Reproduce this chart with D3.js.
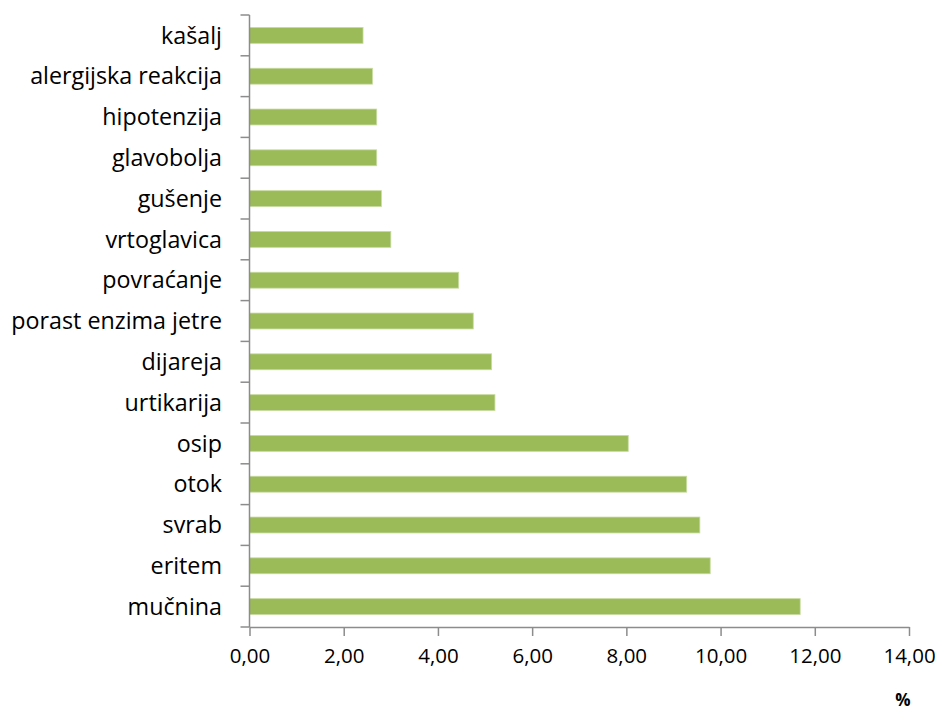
<!DOCTYPE html>
<html>
<head>
<meta charset="utf-8">
<script src="https://cdn.jsdelivr.net/npm/d3@7"></script>
<style>
  html, body { margin: 0; padding: 0; background: #fff; }
  svg { display: block; }
  text { font-family: "Open Sans", Lato, sans-serif; fill: #000; }
</style>
</head>
<body>
<svg id="chart" width="944" height="711"></svg>
<script>
// Adverse reactions, share of reports (%)
const categories = [
  "kašalj", "alergijska reakcija", "hipotenzija", "glavobolja", "gušenje",
  "vrtoglavica", "povraćanje", "porast enzima jetre", "dijareja", "urtikarija",
  "osip", "otok", "svrab", "eritem", "mučnina"
];
const values = [
  2.41, 2.61, 2.70, 2.70, 2.80,
  3.00, 4.44, 4.75, 5.14, 5.21,
  8.04, 9.28, 9.56, 9.78, 11.69
];
const xTicks = [0, 2, 4, 6, 8, 10, 12, 14];
const unitLabel = "%";

const svg = d3.select("#chart");
const plotLeft = 249.5, plotRight = 909, plotTop = 15, plotBottom = 627;
const axisColor = "#8c8c8c";

const x = d3.scaleLinear().domain([0, 14]).range([plotLeft, plotRight]);
const y = d3.scaleBand().domain(categories).range([plotTop, plotBottom])
  .paddingInner(0.61).paddingOuter(0.305);

// bars
svg.append("g").selectAll("rect")
  .data(categories.map((c, i) => ({ c, v: values[i] })))
  .join("rect")
  .attr("x", x(0))
  .attr("y", d => y(d.c))
  .attr("width", d => x(d.v) - x(0))
  .attr("height", y.bandwidth())
  .attr("fill", "#9bbb59")
  .attr("stroke", "#c7dba0")
  .attr("stroke-width", 0.8);

// category axis: ticks sit on band boundaries
const bandEdges = categories.map(c => y(c) - y.step() * y.paddingInner() / 2);
bandEdges.push(plotBottom);
const yAxisG = svg.append("g");
yAxisG.append("line")
  .attr("x1", plotLeft).attr("x2", plotLeft).attr("y1", plotTop).attr("y2", plotBottom)
  .attr("stroke", axisColor).attr("stroke-width", 1.5);
yAxisG.selectAll("line.tick").data(bandEdges).join("line")
  .attr("class", "tick")
  .attr("x1", plotLeft - 9).attr("x2", plotLeft)
  .attr("y1", d => d).attr("y2", d => d)
  .attr("stroke", axisColor).attr("stroke-width", 1.5);
yAxisG.selectAll("text").data(categories).join("text")
  .attr("x", 222)
  .attr("y", d => y(d) + y.bandwidth() / 2)
  .attr("dy", "0.35em")
  .attr("text-anchor", "end")
  .attr("font-size", 23.3)
  .attr("fill", "#111")
  .text(d => d);

// value axis
const fmt = v => v.toFixed(2).replace(".", ",");
const xAxis = d3.axisBottom(x).tickValues(xTicks).tickSize(9).tickSizeOuter(0).tickFormat(fmt);
const xAxisG = svg.append("g")
  .attr("transform", `translate(0,${plotBottom})`)
  .call(xAxis);
xAxisG.select(".domain").attr("stroke", axisColor).attr("stroke-width", 1.5);
xAxisG.selectAll(".tick line").attr("stroke", axisColor).attr("stroke-width", 1.5);
xAxisG.selectAll(".tick text")
  .attr("font-family", "'Open Sans', Lato, sans-serif")
  .attr("font-size", 20.5)
  .attr("fill", "#111")
  .attr("y", 21);

svg.append("text")
  .attr("x", 903).attr("y", 706)
  .attr("text-anchor", "middle")
  .attr("font-size", 17)
  .attr("font-weight", "bold")
  .text(unitLabel);
</script>
</body>
</html>
